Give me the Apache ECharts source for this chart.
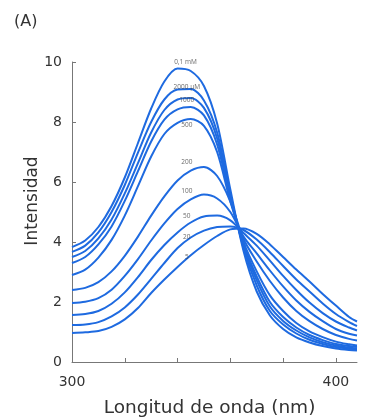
<!DOCTYPE html>
<html><head><meta charset="utf-8">
<script src="https://cdn.jsdelivr.net/npm/echarts@6/dist/echarts.min.js"></script>
<style>html,body{margin:0;padding:0;background:#fff}#c{width:366px;height:420px}</style>
</head><body><div id="c"></div>
<script>
// wavelength samples (nm)
const wavelengths = [300, 305, 310, 315, 320, 325, 330, 335, 340, 345, 350, 355, 360, 365, 370, 375, 380, 385, 390, 395, 400, 405, 408];
// intensity curves, highest peak first
const c0_1mM  = [3.83, 4.05, 4.50, 5.20, 6.15, 7.30, 8.45, 9.35, 9.78, 9.70, 9.20, 7.95, 5.75, 3.70, 2.35, 1.55, 1.10, 0.82, 0.65, 0.53, 0.45, 0.40, 0.38];
const c2000uM = [3.67, 3.88, 4.32, 5.00, 5.90, 6.98, 8.00, 8.75, 9.08, 9.10, 8.72, 7.65, 5.60, 3.80, 2.55, 1.70, 1.25, 0.95, 0.74, 0.60, 0.50, 0.44, 0.42];
const c1000uM = [3.50, 3.70, 4.12, 4.75, 5.62, 6.63, 7.65, 8.40, 8.75, 8.80, 8.47, 7.45, 5.50, 3.88, 2.72, 1.85, 1.37, 1.05, 0.82, 0.66, 0.55, 0.48, 0.45];
const c700uM  = [3.30, 3.50, 3.92, 4.52, 5.37, 6.36, 7.35, 8.08, 8.42, 8.50, 8.22, 7.25, 5.45, 3.93, 2.85, 2.00, 1.50, 1.15, 0.90, 0.73, 0.60, 0.53, 0.50];
const c500uM  = [2.90, 3.08, 3.48, 4.07, 4.88, 5.86, 6.85, 7.60, 7.97, 8.10, 7.87, 7.00, 5.35, 4.00, 3.02, 2.22, 1.70, 1.30, 1.02, 0.83, 0.68, 0.59, 0.55];
const c200uM  = [2.40, 2.47, 2.66, 3.02, 3.54, 4.18, 4.88, 5.52, 6.05, 6.38, 6.50, 6.20, 5.35, 4.10, 3.35, 2.70, 2.15, 1.70, 1.36, 1.10, 0.90, 0.77, 0.72];
const c100uM  = [1.97, 2.01, 2.13, 2.41, 2.87, 3.43, 4.05, 4.62, 5.10, 5.42, 5.58, 5.45, 5.00, 4.18, 3.62, 3.05, 2.52, 2.05, 1.67, 1.36, 1.10, 0.94, 0.88];
const c50uM   = [1.57, 1.60, 1.70, 1.94, 2.32, 2.83, 3.40, 3.90, 4.32, 4.65, 4.85, 4.88, 4.72, 4.30, 3.88, 3.38, 2.87, 2.40, 1.98, 1.63, 1.35, 1.15, 1.05];
const c20uM   = [1.23, 1.25, 1.33, 1.52, 1.82, 2.25, 2.77, 3.30, 3.80, 4.15, 4.38, 4.50, 4.52, 4.40, 4.08, 3.66, 3.20, 2.75, 2.35, 1.95, 1.60, 1.33, 1.20];
const c5uM    = [0.97, 0.99, 1.03, 1.17, 1.42, 1.80, 2.30, 2.75, 3.17, 3.56, 3.90, 4.20, 4.42, 4.45, 4.27, 3.92, 3.50, 3.08, 2.68, 2.27, 1.88, 1.50, 1.35];
const curves = [c0_1mM, c2000uM, c1000uM, c700uM, c500uM, c200uM, c100uM, c50uM, c20uM, c5uM];
// curve annotations
const labelTexts = ["0,1 mM", "2000 µM", "1000", "500", "200", "100", "50", "20", "5"];
const labelX = [343, 343.5, 343.5, 343.5, 343.5, 343.5, 343.5, 343.5, 343.5];
const labelY = [10.0, 9.17, 8.73, 7.9, 6.67, 5.7, 4.87, 4.17, 3.5];
// axis ticks
const xTicks = [300, 320, 340, 360, 380, 400];
const xTickLabels = [300, 400];
const yTicks = [0, 2, 4, 6, 8, 10];

const chart = echarts.init(document.getElementById('c'));
const font = 'DejaVu Sans, sans-serif';
const blue = '#1e6ae0';
const series = curves.map(c => ({
  type: 'line', data: wavelengths.map((w, i) => [w, c[i]]),
  smooth: 0.3, showSymbol: false, symbol: 'none',
  lineStyle: {color: blue, width: 2}, z: 2, silent: true
}));
series.push({
  type: 'scatter', symbolSize: 0, z: 5, silent: true,
  data: labelTexts.map((t, i) => ({value: [labelX[i], labelY[i]], name: t})),
  label: {show: true, position: 'inside', formatter: p => p.name,
    fontSize: 6.5, color: '#444', fontFamily: 'Open Sans, sans-serif'}
});
chart.setOption({
  animation: false,
  backgroundColor: '#fff',
  grid: {left: 72, right: 9, top: 62, bottom: 58, containLabel: false, outerBoundsMode: 'none'},
  graphic: [{type: 'text', left: 14, top: 14, style: {text: '(A)', font: '16px ' + font, fill: '#333'}}],
  xAxis: {
    type: 'value', min: 300, max: 408,
    name: 'Longitud de onda (nm)', nameLocation: 'middle', nameGap: 37, nameMoveOverlap: false,
    nameTextStyle: {fontSize: 18.5, color: '#333', fontFamily: font, padding: [0, 10, 0, 0]},
    axisLine: {show: true, lineStyle: {color: '#777', width: 1}},
    axisTick: {show: true, inside: true, length: 4, customValues: xTicks, lineStyle: {color: '#777'}},
    axisLabel: {customValues: xTickLabels, fontSize: 14, color: '#333', fontFamily: font, margin: 13},
    splitLine: {show: false}
  },
  yAxis: {
    type: 'value', min: 0, max: 10, interval: 2,
    name: 'Intensidad', nameLocation: 'middle', nameGap: 31, nameMoveOverlap: false,
    nameTextStyle: {fontSize: 17, color: '#333', fontFamily: font, padding: [0, 0, 0, 22]},
    axisLine: {show: true, lineStyle: {color: '#777', width: 1}},
    axisTick: {show: true, inside: true, length: 4, customValues: yTicks, lineStyle: {color: '#777'}},
    axisLabel: {fontSize: 14, color: '#333', fontFamily: font, margin: 10},
    splitLine: {show: false}
  },
  series: series
});
</script></body></html>
